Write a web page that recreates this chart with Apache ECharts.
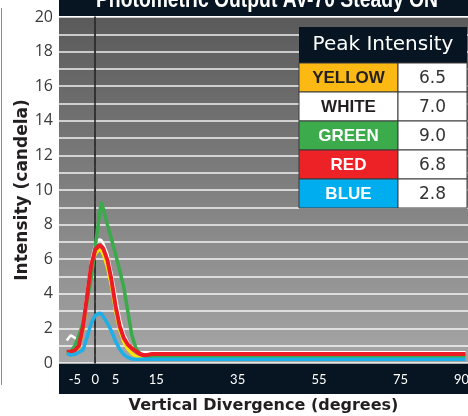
<!DOCTYPE html>
<html>
<head>
<meta charset="utf-8">
<script src="https://cdn.jsdelivr.net/npm/echarts@6/dist/echarts.min.js"></script>
<style>
  html, body { margin: 0; padding: 0; background: #ffffff; }
  #chart { width: 468px; height: 416px; }
</style>
</head>
<body>
<div id="chart"></div>
<script>
// degrees sampled along the x axis (shared by every curve)
const degrees = [-7, -6, -5, -4, -3, -2, -1, 0, 1, 1.5, 2, 3, 4, 5, 6, 7, 8, 9, 10, 11, 12, 13, 14, 30, 50, 70, 91];

const whiteValues = [1.3, 1.6, 1.45, 1.3, 2.4, 4.2, 5.9, 6.85, 7.15, 7.1, 6.9, 6.3, 5.2, 3.9, 2.6, 1.7, 1.2, 0.85, 0.72, 0.64, 0.62, 0.62, 0.62, 0.62, 0.62, 0.62, 0.62];
const yellowValues = [0.55, 0.55, 0.65, 0.9, 1.9, 3.6, 5.4, 6.3, 6.55, 6.5, 6.25, 5.5, 4.4, 2.95, 1.9, 1.2, 0.8, 0.55, 0.38, 0.3, 0.3, 0.3, 0.3, 0.3, 0.3, 0.3, 0.3];
const greenValues = [0.62, 0.65, 1.0, 1.6, 2.3, 3.6, 4.9, 6.7, 8.5, 9.3, 8.9, 8.0, 7.15, 6.3, 5.35, 4.4, 3.0, 1.6, 0.85, 0.55, 0.4, 0.35, 0.35, 0.35, 0.35, 0.35, 0.35];
const redValues = [0.65, 0.65, 0.72, 1.0, 2.1, 3.9, 5.65, 6.55, 6.8, 6.75, 6.6, 5.95, 4.8, 3.3, 2.15, 1.45, 1.07, 0.85, 0.68, 0.52, 0.45, 0.48, 0.52, 0.52, 0.52, 0.52, 0.52];
const blueValues = [0.55, 0.46, 0.5, 0.62, 0.75, 1.5, 2.3, 2.75, 2.87, 2.85, 2.68, 2.3, 1.83, 1.25, 0.8, 0.5, 0.32, 0.23, 0.21, 0.21, 0.21, 0.21, 0.21, 0.21, 0.21, 0.21, 0.21];

const xTickValues = [-5, 0, 5, 15, 35, 55, 75, 90];
const centerDegree = 0;

const peakLabels = ["YELLOW", "WHITE", "GREEN", "RED", "BLUE"];
const peakValues = [6.5, 7.0, 9.0, 6.8, 2.8];

const CELL_FILLS = ["#fdb913", "#ffffff", "#3cab4b", "#ec2227", "#00aeef"];
const CELL_TEXT = ["#231f20", "#231f20", "#ffffff", "#ffffff", "#ffffff"];
const NAVY = "#071522";
const Y_MAX = 20;

const toPairs = (values) => degrees.map((d, i) => [d, values[i]]);

const buildTable = () => {
  const left = 299;
  const split = 398;
  const right = 467;
  const top = 27;
  const headH = 36;
  const rowH = 29;
  const items = [
    {
      type: "rect",
      z: 100,
      shape: { x: left, y: top, width: right - left, height: headH },
      style: { fill: NAVY },
    },
    {
      type: "text",
      z: 101,
      style: {
        text: "Peak Intensity",
        x: (left + right) / 2,
        y: top + headH / 2,
        align: "center",
        verticalAlign: "middle",
        fill: "#ffffff",
        font: "20px 'DejaVu Sans'",
      },
    },
  ];

  peakLabels.forEach((label, i) => {
    const y = top + headH + i * rowH;
    items.push(
      {
        type: "rect",
        z: 100,
        shape: { x: left, y, width: split - left, height: rowH },
        style: { fill: CELL_FILLS[i], stroke: "#3a3a3a", lineWidth: 1 },
      },
      {
        type: "rect",
        z: 100,
        shape: { x: split, y, width: right - split, height: rowH },
        style: { fill: "#ffffff", stroke: "#3a3a3a", lineWidth: 1 },
      },
      {
        type: "text",
        z: 101,
        style: {
          text: label,
          x: (left + split) / 2,
          y: y + rowH / 2 + 1,
          align: "center",
          verticalAlign: "middle",
          fill: CELL_TEXT[i],
          font: "bold 17px 'Liberation Sans'",
        },
      },
      {
        type: "text",
        z: 101,
        style: {
          text: peakValues[i].toFixed(1),
          x: (split + right) / 2,
          y: y + rowH / 2 + 1,
          align: "center",
          verticalAlign: "middle",
          fill: "#333333",
          font: "17px 'DejaVu Sans'",
        },
      }
    );
  });
  return items;
};

const chart = echarts.init(document.getElementById("chart"), null, { renderer: "canvas" });

const lineSeries = (name, values, color, width, z) => ({
  name,
  type: "line",
  data: toPairs(values),
  showSymbol: false,
  z,
  lineStyle: { color, width },
  itemStyle: { color },
});

chart.setOption({
  animation: false,
  backgroundColor: "#ffffff",
  grid: {
    left: 59,
    right: 0,
    top: 17,
    bottom: 53,
    show: true,
    borderWidth: 0,
    containLabel: false,
    outerBoundsMode: "none",
    backgroundColor: new echarts.graphic.LinearGradient(0, 0, 0, 1, [
      { offset: 0, color: "#5a5a5a" },
      { offset: 1, color: "#a6a6a6" },
    ]),
  },
  xAxis: {
    type: "value",
    min: -8.9,
    max: 91.6,
    name: "Vertical Divergence (degrees)",
    nameLocation: "middle",
    nameGap: 35,
    nameMoveOverlap: false,
    nameTextStyle: {
      color: "#231f20",
      fontFamily: "DejaVu Sans",
      fontWeight: "bold",
      fontSize: 16,
    },
    axisLine: { show: false },
    axisTick: { show: false },
    splitLine: { show: false },
    axisLabel: {
      customValues: xTickValues,
      color: "#ffffff",
      fontFamily: "Lato",
      fontSize: 13,
      margin: 10,
    },
  },
  yAxis: {
    type: "value",
    min: 0,
    max: Y_MAX,
    interval: 1,
    name: "Intensity (candela)",
    nameLocation: "middle",
    nameGap: 28,
    nameMoveOverlap: false,
    nameTextStyle: {
      color: "#231f20",
      fontFamily: "DejaVu Sans",
      fontWeight: "bold",
      fontSize: 17,
    },
    axisLine: { show: true, lineStyle: { color: "#222222", width: 1.5 } },
    axisTick: { show: false },
    splitLine: { lineStyle: { color: "rgba(255,255,255,0.9)", width: 1.5 } },
    axisLabel: {
      color: "#3a3a3a",
      fontFamily: "Open Sans",
      fontSize: 16,
      margin: 6,
      formatter: (v) => (v % 2 === 0 ? String(v) : ""),
    },
  },
  graphic: [
    {
      type: "rect",
      z: -1,
      shape: { x: 59, y: 0, width: 409, height: 16 },
      style: { fill: NAVY },
    },
    {
      type: "rect",
      z: -1,
      shape: { x: 59, y: 363, width: 409, height: 31 },
      style: { fill: NAVY },
    },
    {
      type: "line",
      z: 1,
      shape: { x1: 1.5, y1: 8, x2: 1.5, y2: 385 },
      style: { stroke: "#8a8a8a", lineWidth: 1 },
    },
    {
      // title sits partly above the top edge, as in the source image
      type: "text",
      z: 10,
      x: 267,
      y: 12.5,
      scaleX: 0.84,
      style: {
        text: "Photometric Output AV-70 Steady ON",
        x: 0,
        y: 0,
        align: "center",
        verticalAlign: "bottom",
        fill: "#ffffff",
        font: "bold 23px 'Liberation Sans'",
      },
    },
    ...buildTable(),
  ],
  series: [
    {
      // dashed reference line at 0 degrees
      type: "line",
      data: [[centerDegree, 0], [centerDegree, Y_MAX]],
      showSymbol: false,
      silent: true,
      z: 1,
      lineStyle: { color: "#333333", type: "dashed", width: 1.5 },
    },
    lineSeries("White", whiteValues, "#ffffff", 2.5, 2),
    lineSeries("Yellow", yellowValues, "#fde500", 3, 3),
    lineSeries("Green", greenValues, "#3aaa4a", 3.5, 4),
    lineSeries("Red", redValues, "#ed1c24", 4, 5),
    lineSeries("Blue", blueValues, "#1eaee8", 3.5, 6),
  ],
});
</script>
</body>
</html>
